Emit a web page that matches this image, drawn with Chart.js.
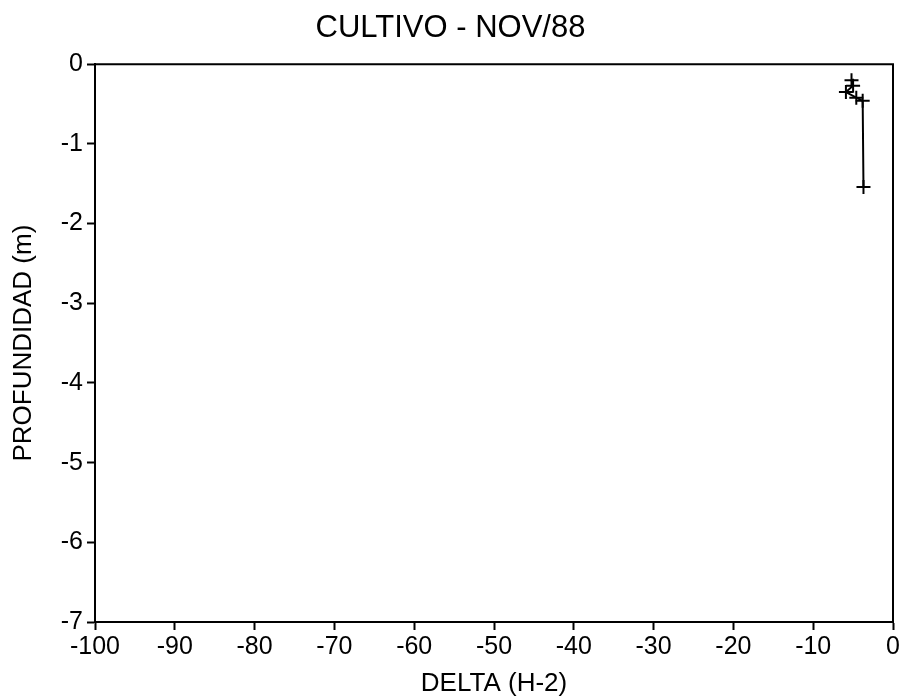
<!DOCTYPE html>
<html>
<head>
<meta charset="utf-8">
<script src="https://cdn.jsdelivr.net/npm/chart.js@4/dist/chart.umd.min.js"></script>
<style>
  html, body { margin: 0; padding: 0; background: #fff; }
  #wrap { width: 910px; height: 699px; }
</style>
</head>
<body>
<div id="wrap"><canvas id="perfil"></canvas></div>
<script>
// perfil isotópico: delta (H-2) contra profundidad
const delta = [-5.2, -5.0, -5.9, -4.6, -3.8, -3.7];
const profundidad = [-0.20, -0.27, -0.35, -0.42, -0.46, -1.54];
const xTicks = [-100, -90, -80, -70, -60, -50, -40, -30, -20, -10, 0];
const yTicks = [0, -1, -2, -3, -4, -5, -6, -7];

const FONT = "'Liberation Sans', Arial, Helvetica, sans-serif";

// marco superior y derecho del área de trazado
const marco = {
  id: 'marco',
  afterDraw(chart) {
    const { ctx, chartArea: a } = chart;
    ctx.save();
    ctx.strokeStyle = '#000';
    ctx.lineWidth = 2;
    ctx.beginPath();
    ctx.moveTo(a.left, a.top);
    ctx.lineTo(a.right, a.top);
    ctx.lineTo(a.right, a.bottom);
    ctx.stroke();
    ctx.restore();
  }
};

document.addEventListener('DOMContentLoaded', () => {
  const ctx = document.getElementById('perfil').getContext('2d');
  new Chart(ctx, {
    type: 'scatter',
    data: {
      datasets: [{
        label: 'CULTIVO',
        data: delta.map((d, i) => ({ x: d, y: profundidad[i] })),
        showLine: true,
        borderColor: '#000',
        borderWidth: 2,
        pointStyle: 'cross',
        pointRadius: 7,
        pointBorderWidth: 2,
        pointBorderColor: '#000',
        backgroundColor: '#000'
      }]
    },
    options: {
      responsive: true,
      maintainAspectRatio: false,
      animation: false,
      layout: { padding: { left: 8, right: 17, top: 0, bottom: 0 } },
      plugins: {
        legend: { display: false },
        tooltip: { enabled: false },
        title: {
          display: true,
          text: 'CULTIVO - NOV/88',
          color: '#000',
          font: { family: FONT, size: 31, weight: 'normal' },
          padding: { top: 10, bottom: 17 }
        }
      },
      scales: {
        x: {
          type: 'linear',
          min: -100,
          max: 0,
          afterBuildTicks: s => { s.ticks = xTicks.map(v => ({ value: v })); },
          afterFit: s => { s.height = 77; },
          border: { display: true, color: '#000', width: 2 },
          grid: { drawOnChartArea: false, drawTicks: true, tickLength: 8, tickWidth: 2, tickColor: '#000' },
          ticks: { color: '#000', font: { family: FONT, size: 25 }, padding: 2, maxRotation: 0 },
          title: {
            display: true,
            text: 'DELTA (H-2)',
            color: '#000',
            font: { family: FONT, size: 26 },
            padding: { top: 0, bottom: 0 }
          }
        },
        y: {
          type: 'linear',
          min: -7,
          max: 0,
          afterBuildTicks: s => { s.ticks = yTicks.map(v => ({ value: v })); },
          afterFit: s => { s.width = 87; },
          border: { display: true, color: '#000', width: 2 },
          grid: { drawOnChartArea: false, drawTicks: true, tickLength: 8, tickWidth: 2, tickColor: '#000' },
          ticks: { color: '#000', font: { family: FONT, size: 25 }, padding: 4 },
          title: {
            display: true,
            text: 'PROFUNDIDAD (m)',
            color: '#000',
            font: { family: FONT, size: 26 },
            padding: { top: 0, bottom: 6 }
          }
        }
      }
    },
    plugins: [marco]
  });
});
</script>
</body>
</html>
